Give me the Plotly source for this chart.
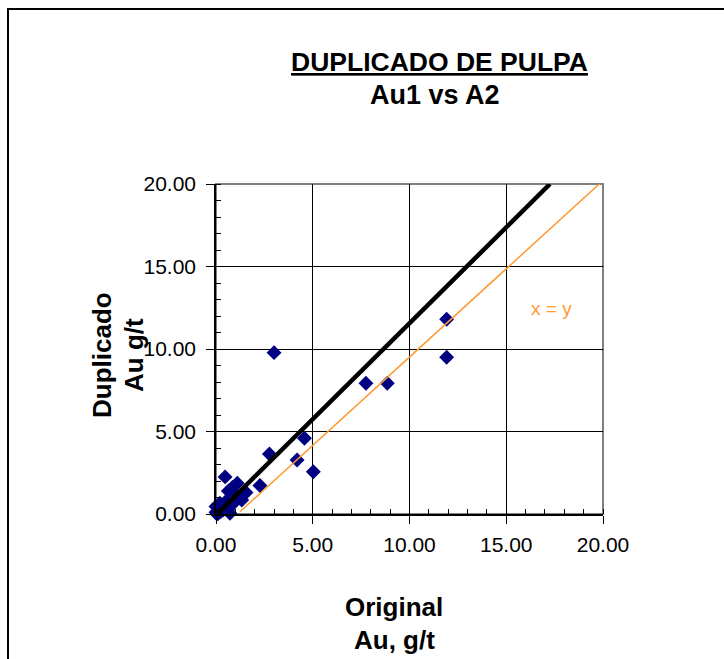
import plotly.graph_objects as go

# ---- data ----
original_au = [3.0, 11.92, 11.92, 7.75, 8.85, 4.57, 4.19, 5.03, 2.76, 2.27,
               0.47, 1.1, 1.55, 0.64, 1.33, 0.9, 0.2, 0.0, 0.0, 0.72,
               0.12, 0.38, 0.05, 0.3, 0.55, 0.85, 1.0, 0.25, 0.6]
duplicado_au = [9.78, 11.8, 9.5, 7.92, 7.92, 4.59, 3.27, 2.56, 3.64, 1.73,
                2.25, 1.86, 1.3, 1.4, 0.85, 0.65, 0.65, 0.45, 0.1, 0.05,
                0.05, 0.25, 0.0, 0.4, 0.8, 1.6, 1.2, 0.15, 0.3]
fit_x = [0.1, 17.26]
fit_y = [0.05, 20.0]
ref_x = [1.25, 19.85]
ref_y = [0.15, 20.05]
tick_vals = [0, 5, 10, 15, 20]
tick_text = ["0.00", "5.00", "10.00", "15.00", "20.00"]

FONT = "Liberation Sans, Arial, sans-serif"
W, H = 724, 659
L, R, T, B = 216, 603, 184, 514


def px(x):
    return (x - L) / (R - L)


def py(y):
    return (B - y) / (B - T)


fig = go.Figure()
fig.add_trace(go.Scatter(x=original_au, y=duplicado_au, mode="markers",
                         marker=dict(symbol="diamond", size=11.5, color="#000080",
                                     line=dict(width=0)),
                         showlegend=False, cliponaxis=False))
fig.add_trace(go.Scatter(x=fit_x, y=fit_y, mode="lines",
                         line=dict(color="black", width=4.5), showlegend=False))
fig.add_trace(go.Scatter(x=ref_x, y=ref_y, mode="lines",
                         line=dict(color="#FF9933", width=1.5), showlegend=False,
                         cliponaxis=False))

axis_common = dict(
    range=[0, 20], tickvals=tick_vals, ticktext=tick_text,
    showgrid=True, gridcolor="black", gridwidth=1, zeroline=False,
    showline=True, linecolor="black", linewidth=1.5,
    ticks="outside", ticklen=8, tickcolor="black", tickwidth=1,
    tickfont=dict(family=FONT, size=21, color="black"),
    minor=dict(ticks="inside", dtick=1, ticklen=5, tickcolor="black", showgrid=False),
)


def ann(text, x, y, size, angle=0, color="black", xref="paper", yref="paper"):
    return dict(text=text, xref=xref, yref=yref, x=x, y=y, textangle=angle,
                xanchor="center", yanchor="middle", showarrow=False,
                font=dict(size=size, family=FONT, color=color))


fig.update_layout(
    width=W, height=H,
    margin=dict(l=L, r=W - R, t=T, b=H - B, autoexpand=False),
    paper_bgcolor="white", plot_bgcolor="white",
    xaxis=dict(**axis_common, ticklabelstandoff=3),
    yaxis=dict(**axis_common, ticklabelstandoff=6),
    font=dict(family=FONT, color="black"),
    shapes=[
        dict(type="rect", xref="paper", yref="paper", x0=0, x1=1, y0=0, y1=1,
             line=dict(color="#808080", width=2), layer="below"),
        dict(type="rect", xref="paper", yref="paper",
             x0=px(8), x1=px(760), y0=py(700), y1=py(9),
             line=dict(color="black", width=2)),
    ],
    annotations=[
        ann("<b><u>DUPLICADO DE PULPA</u></b>", px(439), py(62), 26.5),
        ann("<b>Au1 vs A2</b>", px(435), py(95), 27),
        ann("<b>Duplicado</b>", px(102), py(355), 26, angle=-90),
        ann("<b>Au g/t</b>", px(134), py(355), 26, angle=-90),
        ann("<b>Original</b>", px(394), py(607), 26),
        ann("<b>Au, g/t</b>", px(394), py(640), 26),
        ann("x = y", 17.36, 12.48, 19, color="#FF9933", xref="x", yref="y"),
    ],
)

fig.write_html("out.html", config={"displayModeBar": False},
               post_script="document.body.style.margin='0';document.body.style.overflow='hidden';")
